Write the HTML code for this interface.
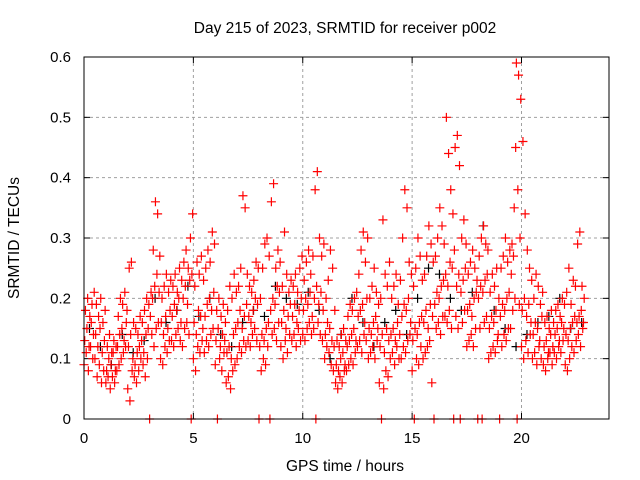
<!DOCTYPE html>
<html><head><meta charset="utf-8"><style>
html,body{margin:0;padding:0;background:#fff;}
svg{display:block;font-family:"Liberation Sans",sans-serif;}
</style></head><body>
<svg id="chart" width="640" height="480" viewBox="0 0 640 480">
<rect width="640" height="480" fill="#fff"/>
<text x="345" y="33" font-size="15.5" text-anchor="middle">Day 215 of 2023, SRMTID for receiver p002</text>
<text x="345" y="471" font-size="15.5" text-anchor="middle">GPS time / hours</text>
<text transform="translate(19,238) rotate(-90)" font-size="15.5" text-anchor="middle">SRMTID / TECUs</text>
<g id="grid"></g><g id="ticks"></g><g id="marks"></g>
<rect x="84" y="57" width="525" height="362" fill="none" stroke="#000" stroke-width="1"/>
</svg>
<script>
const step = 0.1;
const offsets = [0, 0.033, 0.066, 0.05];
const loVals = [.09,.11,.08,.12,.10,.10,.07,.09,.06,.08,.06,.07,.05,.07,.06,.08,.09,.10,.11,.12,.05,.03,.08,.07,.06,.08,.10,.09,.07,.10,0,.14,.12,.15,.16,.10,.09,.12,.11,.13,.13,.12,.14,.15,.13,.12,.15,.16,.14,0,.10,.08,.12,.11,.13,.11,.13,.12,.14,.15,.09,0,.10,.08,.11,.06,.07,.05,.08,.09,.10,.12,.11,.13,.12,.13,.12,.14,.15,.13,0,.08,.10,.09,.12,0,.14,.15,.13,.16,.12,.10,.13,.11,.14,.13,.14,.12,.15,.13,.14,.13,.15,.16,.14,.15,0,.16,.14,.13,.10,.12,.11,.09,.08,.06,.05,.07,.06,.08,.08,.09,.10,.09,.11,.12,.13,.11,.14,.13,.10,.11,.12,.10,.13,.06,0,.05,.08,.07,.10,.11,.09,.12,.10,.10,.12,.11,.13,.14,.08,0,.10,.09,.12,.10,.11,.12,.13,.06,0,.15,.16,.14,.17,.17,.16,.18,.15,0,.17,.15,0,.16,.18,.12,.13,.14,.12,.15,0,.15,0,.16,.17,.10,.11,.12,.11,.13,0,.12,.14,.13,.15,.15,.18,.20,0,.19,.12,.10,.13,.11,.14,.10,.11,.09,.12,.10,.09,.08,.10,.11,.09,.11,.10,.12,.11,.13,.09,.08,.10,.12,.11,.13,.14,.12,.15];
const midVals = [.13,.15,.12,.16,.14,.14,.12,.15,.11,.13,.08,.10,.09,.11,.08,.12,.14,.15,.13,.16,.12,.14,.10,.09,.11,.12,.13,.11,.14,.15,.17,.20,.22,.24,.21,.16,.14,.17,.15,.18,.17,.19,.18,.20,.16,.20,.22,.19,.23,.24,.16,.14,.18,.17,.15,.17,.19,.20,.18,.21,.13,.15,.12,.14,.13,.11,.12,.10,.14,.15,.16,.18,.15,.17,.19,.17,.16,.18,.20,.19,.12,.14,.13,.15,.16,.18,.20,.19,.22,.21,.16,.18,.15,.17,.19,.17,.19,.16,.18,.20,.18,.20,.19,.21,.17,.20,.22,.19,.21,.18,.14,.16,.15,.13,.12,.09,.08,.10,.11,.09,.12,.13,.14,.15,.13,.17,.18,.19,.16,.20,.15,.14,.16,.17,.15,.12,.14,.11,.15,.13,.14,.15,.13,.16,.14,.17,.19,.18,.20,.16,.13,.15,.14,.16,.17,.16,.18,.15,.19,.17,.19,.21,.20,.22,.23,.24,.22,.26,.25,.28,.22,.24,.21,.23,.25,.18,.19,.17,.20,.21,.20,.22,.21,.23,.24,.15,.17,.16,.18,.14,.17,.19,.18,.20,.21,.24,.27,.45,.38,.30,.18,.20,.17,.19,.16,.14,.16,.15,.13,.17,.12,.13,.11,.14,.12,.14,.15,.13,.16,.15,.14,.13,.15,.16,.17,.16,.17,.18,.16];
const hiVals = [.18,.20,.17,.19,.21,.19,.17,.20,.16,.18,.12,.14,.11,.13,.12,.17,.20,.19,.21,.18,.25,.26,.16,.15,.14,.17,.16,.18,.20,.19,.21,.28,.36,.34,.27,.20,.22,.24,.21,.23,.22,.24,.21,.25,.23,.26,.28,.25,.30,.34,.22,.26,.24,.27,.23,.25,.28,.26,.31,.29,.18,.20,.17,.19,.16,.18,.22,.20,.24,.21,.22,.25,.37,.35,.24,.22,.21,.23,.26,.25,.20,.25,.29,.30,.27,.36,.39,.25,.28,.26,.22,.31,.24,.21,.23,.22,.24,.21,.25,.27,.23,.26,.28,.24,.27,.38,.41,.30,.27,.29,.20,.23,.28,.25,.18,.13,.12,.14,.15,.13,.17,.19,.18,.20,.21,.24,.28,.31,.26,.30,.20,.22,.25,.21,.19,.20,.33,.24,.22,.26,.20,.22,.24,.19,.23,.30,.38,.35,.26,.24,.22,.25,.30,.27,.23,.24,.27,.32,.29,.26,.27,.30,.35,.32,.29,.50,.44,.38,.34,.45,.47,.42,.30,.33,.29,.24,.26,.28,.25,.23,.27,.30,.32,.29,.28,.21,.24,.22,.25,.20,.25,.27,.30,.26,.28,.29,.35,.59,.57,.53,.46,.34,.28,.25,.23,.20,.24,.22,.19,.21,.16,.17,.15,.18,.16,.18,.19,.17,.20,.19,.21,.25,.19,.23,.22,.29,.31,.22,.20];
const blackStep = 0.5;
const blackVals = [.15,.12,.09,.14,.11,.13,.20,.16,.18,.22,.17,.20,.14,.12,.16,.18,.17,.22,.20,.19,.21,.18,.10,.14,.20,.16,.12,.16,.18,.14,.20,.25,.24,.20,.18,.21,.32,.18,.15,.12,.14,.16,.17,.20,.15,.16];
const xTicks = [0,5,10,15,20];
const yTicks = [0,0.1,0.2,0.3,0.4,0.5,0.6];
const yTickLabels = ["0","0.1","0.2","0.3","0.4","0.5","0.6"];

const X0=84, X1=609, Y0=419, Y1=57, XMAX=24, YMAX=0.6;
const xs = v => X0 + v/XMAX*(X1-X0);
const ys = v => Y0 - v/YMAX*(Y0-Y1);
const NS='http://www.w3.org/2000/svg';
function mk(tag, attrs, parent){const e=document.createElementNS(NS,tag);for(const k in attrs)e.setAttribute(k,attrs[k]);parent.appendChild(e);return e;}
const grid=document.getElementById('grid'), ticks=document.getElementById('ticks'), marks=document.getElementById('marks');

xTicks.forEach(v=>{
  const x=xs(v);
  if(v>0){const g=mk('line',{x1:x,x2:x,y1:Y1,y2:Y0,stroke:'#a0a0a0','stroke-dasharray':'3,3'},grid);
  
  }
  mk('line',{x1:x,x2:x,y1:Y0,y2:Y0-6,stroke:'#000'},ticks);
  mk('line',{x1:x,x2:x,y1:Y1,y2:Y1+6,stroke:'#000'},ticks);
  const t=mk('text',{x:x,y:443,'font-size':15,'text-anchor':'middle'},ticks);
  t.textContent=v;
  
  
});
yTicks.forEach((v,i)=>{
  const y=ys(v);
  if(v>0&&v<YMAX){const g=mk('line',{x1:X0,x2:X1,y1:y,y2:y,stroke:'#a0a0a0','stroke-dasharray':'3,3'},grid);
  
  }
  mk('line',{x1:X0,x2:X0+6,y1:y,y2:y,stroke:'#000'},ticks);
  mk('line',{x1:X1,x2:X1-6,y1:y,y2:y,stroke:'#000'},ticks);
  const t=mk('text',{x:71,y:y+5,'font-size':15,'text-anchor':'end'},ticks);
  t.textContent=yTickLabels[i];
  
  
});
function plus(tv,v,color,name){
  const x=xs(tv), y=ys(v);
  const p=mk('path',{d:`M${x-4.5},${y}H${x+4.5}M${x},${y-4.5}V${y+4.5}`,stroke:color,'stroke-width':1.2,fill:'none'},marks);
  
  
}
blackVals.forEach((v,i)=>plus(i*blackStep+0.25,v,'#000','black-point'));
[loVals,midVals,hiVals].forEach((arr,k)=>{
  arr.forEach((v,i)=>plus(i*step+offsets[k],v,'#f00','red-point'));
});
</script>
</body></html>
